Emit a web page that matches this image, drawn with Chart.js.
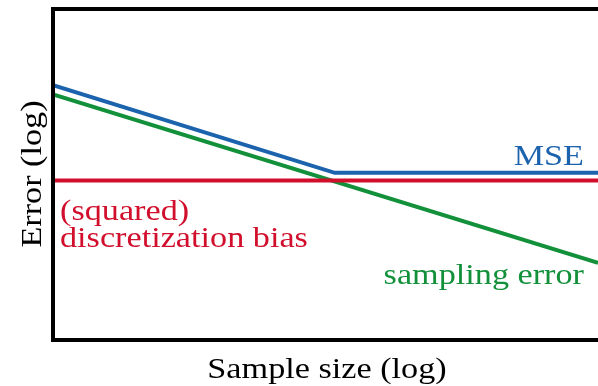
<!DOCTYPE html>
<html>
<head>
<meta charset="utf-8">
<script src="https://cdn.jsdelivr.net/npm/chart.js@4/dist/chart.umd.min.js"></script>
<style>
html,body{margin:0;padding:0;background:#fff;}
#wrap{width:598px;height:386px;}
</style>
</head>
<body>
<div id="wrap"><canvas id="c" width="598" height="386"></canvas></div>
<script>
// Sample size (log scale, normalised 0..1) and error (log) values
const mseX = [0, 0.517, 1];
const mseY = [7.70, 5.05, 5.05];
const biasX = [0, 1];
const biasY = [4.82, 4.82];
const samplingX = [0, 1];
const samplingY = [7.42, 2.33];

const seriesNames = ['MSE', '(squared)\ndiscretization bias', 'sampling error'];
const xTitle = 'Sample size (log)';
const yTitle = 'Error (log)';

const COL_BLUE = '#1c63ae';
const COL_RED = '#d10f2c';
const COL_GREEN = '#12913a';
const FONT = '"Liberation Serif", "DejaVu Serif", serif';
const SX = 1.14;

function pts(xs, ys){ return xs.map((x,i)=>({x:x, y:ys[i]})); }

function wideText(ctx, text, x, y, align, rot){
  ctx.save();
  ctx.translate(x, y);
  if (rot) ctx.rotate(rot);
  ctx.scale(SX, 1);
  ctx.textAlign = align;
  ctx.fillText(text, 0, 0);
  ctx.restore();
}

const framePlugin = {
  id: 'frame',
  afterDatasetsDraw(chart){
    const {ctx, chartArea:a} = chart;
    ctx.save();
    ctx.strokeStyle = '#000';
    ctx.lineWidth = 4;
    ctx.lineJoin = 'miter';
    ctx.strokeRect(a.left, a.top, a.right - a.left + 10, a.bottom - a.top);
    ctx.font = '30px ' + FONT;
    ctx.textBaseline = 'alphabetic';
    ctx.fillStyle = COL_BLUE;
    wideText(ctx, seriesNames[0], 584, 165, 'right');
    ctx.fillStyle = COL_GREEN;
    wideText(ctx, seriesNames[2], 584, 284, 'right');
    ctx.fillStyle = COL_RED;
    const redLines = seriesNames[1].split('\n');
    wideText(ctx, redLines[0], 60, 220, 'left');
    wideText(ctx, redLines[1], 60, 247, 'left');
    ctx.fillStyle = '#000';
    wideText(ctx, xTitle, 327, 378, 'center');
    wideText(ctx, yTitle, 41, 174, 'center', -Math.PI/2);
    ctx.restore();
  }
};

new Chart(document.getElementById('c'), {
  type: 'line',
  data: {
    datasets: [
      {label: 'MSE', data: pts(mseX, mseY), borderColor: COL_BLUE, borderWidth: 4, pointRadius: 0, tension: 0},
      {label: 'bias', data: pts(biasX, biasY), borderColor: COL_RED, borderWidth: 4, pointRadius: 0, tension: 0},
      {label: 'sampling', data: pts(samplingX, samplingY), borderColor: COL_GREEN, borderWidth: 4, pointRadius: 0, tension: 0}
    ]
  },
  options: {
    responsive: false,
    animation: false,
    layout: {padding: {left: 53, top: 9, right: 0, bottom: 46}},
    plugins: {legend: {display: false}, tooltip: {enabled: false}},
    scales: {
      x: {type: 'linear', min: 0, max: 1, display: false},
      y: {type: 'linear', min: 0, max: 10, display: false}
    }
  },
  plugins: [framePlugin]
});
</script>
</body>
</html>
